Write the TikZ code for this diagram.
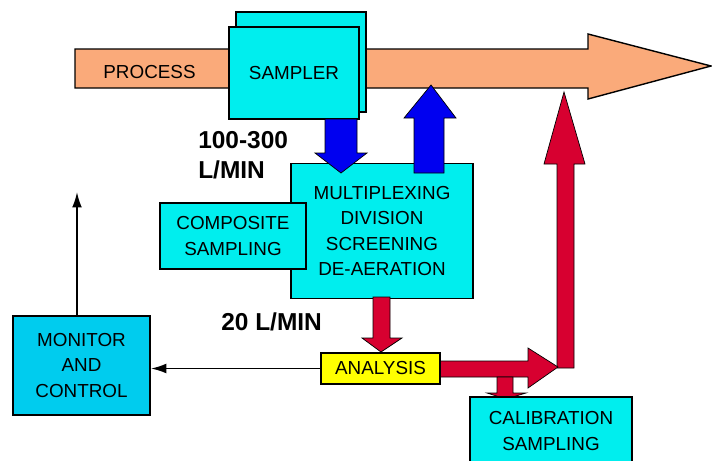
\documentclass[tikz,border=0pt]{standalone}
\usepackage{fontspec}
\setmainfont{Liberation Sans}
\usetikzlibrary{arrows.meta}
\definecolor{sampcyan}{RGB}{0,238,238}
\definecolor{moncyan}{RGB}{0,204,238}
\definecolor{procorange}{RGB}{250,170,122}
\definecolor{flowblue}{RGB}{0,0,240}
\definecolor{flowred}{RGB}{215,0,48}
\definecolor{anayellow}{RGB}{255,255,0}
\begin{document}
\begin{tikzpicture}[x=0.025cm, y=-0.025cm,
    every node/.style={font=\fontsize{13.4}{17.8}\selectfont},
    box/.style={draw=black, line width=1.2pt, fill=sampcyan, align=center, inner sep=0pt},
    fatblue/.style={draw=black, line width=0.5pt, fill=flowblue},
    fatred/.style={draw=black, line width=0.5pt, fill=flowred},
    rate/.style={font=\fontsize{17.4}{21.3}\selectfont\bfseries, anchor=west, align=left, inner sep=0pt},
    sig/.style={line width=1.3pt, -{Latex[length=11pt, width=7pt]}}]
    \useasboundingbox (0,0) rectangle (712,461);
    \clip (0,0) rectangle (712,461);

    % Process stream
    \draw[line width=1pt, fill=procorange] (75,49) -- (588,49) -- (588,34) -- (711,66)
        -- (588,99) -- (588,88) -- (75,88) -- cycle;
    \node (proc) at (149.5,72) {PROCESS};

    % Sampler (two boxes)
    \node[box, minimum width=3.25cm, minimum height=2.5cm] (sampback) at (301,62) {};
    \node[box, minimum width=3.25cm, minimum height=2.3cm] (samp) at (294,73) {\raisebox{-4pt}{SAMPLER}};

    % Multiplexing and composite sampling
    \node[box, minimum width=4.55cm, minimum height=3.375cm, font=\fontsize{13.4}{18.2}\selectfont] (mux) at (382,231)
        {MULTIPLEXING\\DIVISION\\SCREENING\\DE-AERATION};
    \node[box, minimum width=3.65cm, minimum height=1.65cm, font=\fontsize{13.4}{19}\selectfont] (comp) at (233,236)
        {COMPOSITE\\SAMPLING};

    % Blue flow arrows
    \draw[fatblue] (325,119) -- (357,119) -- (357,153) -- (367,153) -- (341,173)
        -- (315,153) -- (325,153) -- cycle;
    \draw[fatblue] (414,173) -- (414,118) -- (404,118) -- (431,85) -- (456,118)
        -- (444,118) -- (444,173) -- cycle;

    % Flow rates
    \node[rate, font=\fontsize{17.4}{21.5}\selectfont\bfseries] (rate1) at (198,155) {100-300\\L/MIN};
    \node[rate] (rate2) at (221,322) {20 L/MIN};

    % Red flow arrows
    \draw[fatred] (373,297) -- (390,297) -- (390,338) -- (402,338) -- (381,352)
        -- (362,338) -- (373,338) -- cycle;
    \draw[fatred] (557,368) -- (557,164) -- (544,164) -- (564,92) -- (585,164)
        -- (574,164) -- (574,368) -- cycle;
    \draw[fatred] (440,361) -- (528,361) -- (528,348) -- (558,367) -- (528,388)
        -- (528,377) -- (440,377) -- cycle;
    \draw[fatred] (497,377) -- (513,377) -- (513,393) -- (526,393) -- (506,399)
        -- (487,393) -- (497,393) -- cycle;

    % Analysis, calibration, monitor
    \node[box, fill=anayellow, minimum width=2.975cm, minimum height=0.775cm] (ana) at (380.5,368.5) {ANALYSIS};
    \node[box, minimum width=4.05cm, minimum height=1.7cm, font=\fontsize{13.4}{18.5}\selectfont] (cal) at (551,431)
        {CALIBRATION\\SAMPLING};
    \node[box, fill=moncyan, minimum width=3.425cm, minimum height=2.475cm] (mon) at (81.5,365.5)
        {MONITOR\\AND\\CONTROL};

    % Signal lines
    \coordinate (monup) at (77,192);
    \draw[sig] (mon.north -| monup) -- (monup);
    \draw[sig] (ana.west) -- (ana.west -| mon.east);
\end{tikzpicture}
\end{document}
